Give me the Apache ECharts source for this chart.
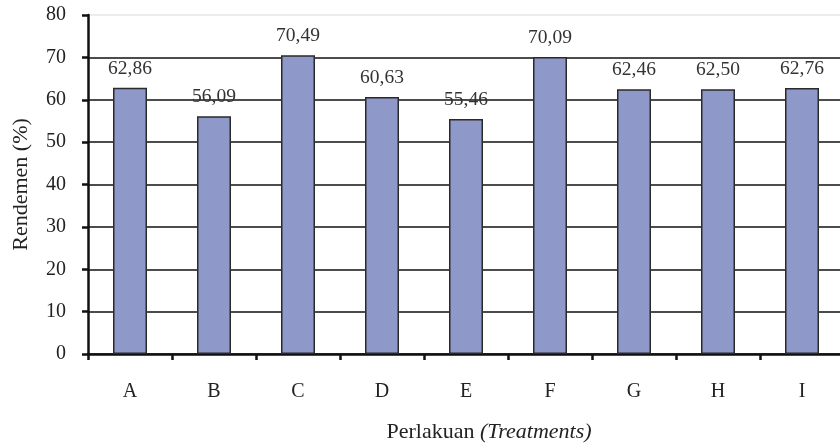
<!DOCTYPE html>
<html><head><meta charset="utf-8">
<script src="https://cdn.jsdelivr.net/npm/echarts@6/dist/echarts.min.js"></script>
<style>html,body{margin:0;padding:0;background:#fff}#c{width:840px;height:447px}</style>
</head><body><div id="c"></div>
<script>
const categories = ['A','B','C','D','E','F','G','H','I'];
const rendemen = [62.86, 56.09, 70.49, 60.63, 55.46, 70.09, 62.46, 62.50, 62.76];
const yTicks = [0,10,20,30,40,50,60,70,80];

const FONT = '"Liberation Serif", "DejaVu Serif", serif';
const chart = echarts.init(document.getElementById('c'));
chart.setOption({
  animation: false,
  grid: { left: 88, right: -4, top: 15, bottom: 93, containLabel: false, outerBoundsMode: 'none' },
  xAxis: {
    type: 'category',
    data: categories,
    boundaryGap: true,
    axisLine: { lineStyle: { color: '#111', width: 2.5 } },
    axisTick: { show: true, alignWithLabel: false, length: 6, inside: false, lineStyle: { color: '#111', width: 2.5 } },
    axisLabel: { color: '#222', fontFamily: FONT, fontSize: 20, margin: 28 },
    name: '{a|Perlakuan }{b|(Treatments)}',
    nameLocation: 'middle',
    nameGap: 67,
    nameTextStyle: {
      padding: [0, 0, 0, 46],
      rich: {
        a: { fontFamily: FONT, fontSize: 22, color: '#222' },
        b: { fontFamily: FONT, fontSize: 22, color: '#222', fontStyle: 'italic' }
      }
    }
  },
  yAxis: {
    type: 'value',
    min: yTicks[0], max: yTicks[yTicks.length-1], interval: 10,
    axisLine: { show: true, lineStyle: { color: '#111', width: 2.5 } },
    axisTick: { show: true, length: 6, lineStyle: { color: '#111', width: 2.5 } },
    axisLabel: { color: '#222', fontFamily: FONT, fontSize: 20, margin: 22 },
    splitLine: { show: true, lineStyle: { color: ['#111','#111','#111','#111','#111','#111','#111','#111','#e6e6e6'], width: 1.5 } },
    name: 'Rendemen (%)',
    nameLocation: 'middle',
    nameGap: 56,
    nameRotate: 90,
    nameTextStyle: { fontFamily: FONT, fontSize: 22, color: '#222' }
  },
  series: [{
    type: 'bar',
    data: rendemen,
    barWidth: 34,
    itemStyle: { color: '#8f99c9', borderColor: '#2a2a2a', borderWidth: 1.5 },
    label: {
      show: true, position: 'top', distance: 9,
      fontFamily: FONT, fontSize: 19.5, color: '#333',
      formatter: p => p.value.toFixed(2).replace('.', ',')
    }
  }]
});
</script></body></html>
